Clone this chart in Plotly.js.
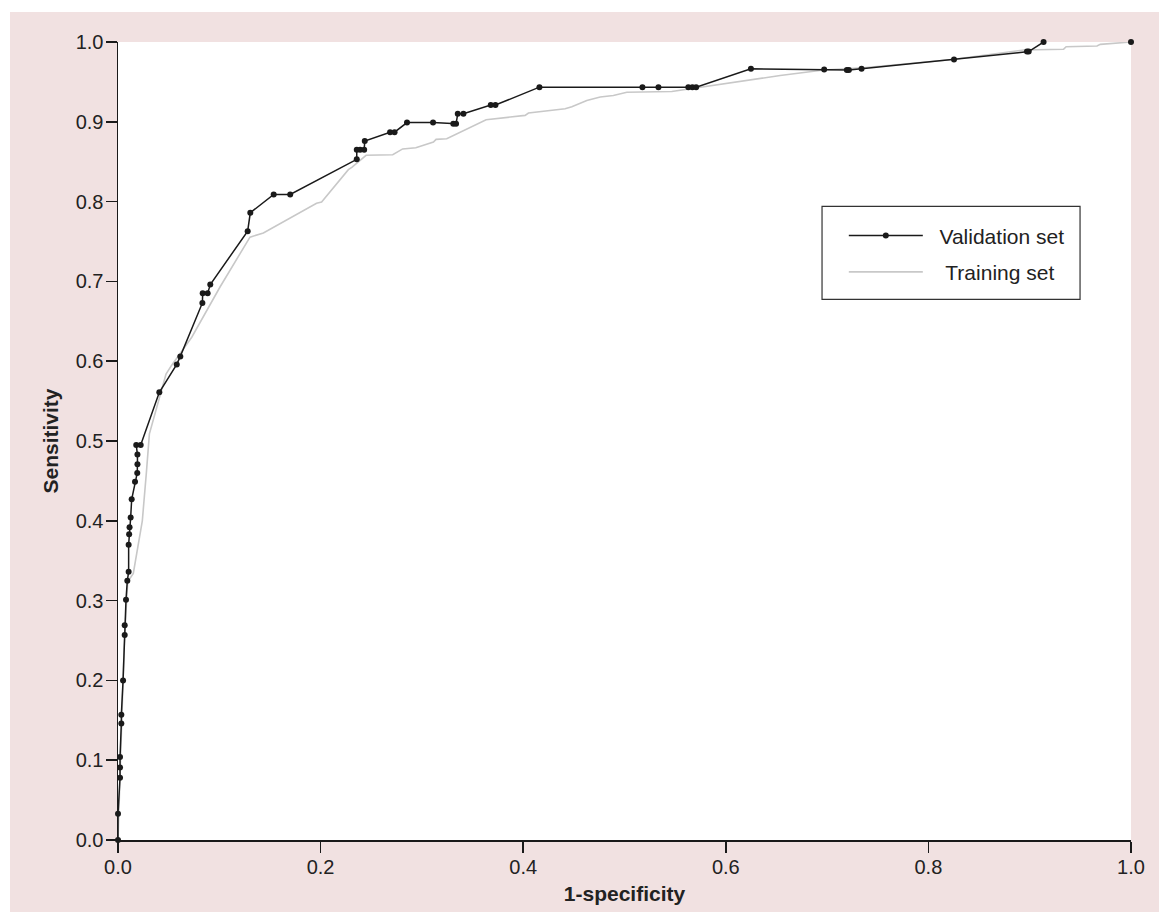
<!DOCTYPE html>
<html>
<head>
<meta charset="utf-8">
<script src="https://cdn.plot.ly/plotly-3.0.1.min.js"></script>
<style>
  html, body { margin: 0; padding: 0; background: #ffffff; }
  #chart { position: absolute; left: 10px; top: 12px; width: 1149px; height: 900px; }
</style>
</head>
<body>
<div id="chart"></div>
<script>
// Validation set ROC points (1-specificity, sensitivity)
const validationX = [0.000, 0.000, 0.002, 0.002, 0.002, 0.0033, 0.0033, 0.005, 0.0066, 0.0066, 0.0079, 0.0092, 0.0105, 0.0105, 0.011, 0.0114, 0.0125, 0.0135, 0.0168, 0.019, 0.0192, 0.0192, 0.018, 0.0224,
  0.0408, 0.058, 0.0615, 0.0833, 0.0836, 0.0885, 0.0911, 0.128, 0.1306, 0.1537, 0.170,
  0.2357, 0.2357, 0.239, 0.243, 0.2436, 0.2686, 0.273, 0.2853, 0.311, 0.331, 0.3337, 0.3354, 0.341, 0.368, 0.3726,
  0.416, 0.5177, 0.5335, 0.563, 0.567, 0.5707, 0.6248, 0.6971, 0.7195, 0.7215, 0.734, 0.8253, 0.8973, 0.899, 0.9137, null, 1.000];
const validationY = [0.000, 0.033, 0.078, 0.091, 0.104, 0.146, 0.157, 0.200, 0.257, 0.269, 0.301, 0.325, 0.336, 0.370, 0.383, 0.392, 0.404, 0.427, 0.449, 0.460, 0.471, 0.483, 0.495, 0.495,
  0.561, 0.596, 0.606, 0.673, 0.685, 0.685, 0.696, 0.763, 0.786, 0.809, 0.809,
  0.853, 0.865, 0.865, 0.865, 0.876, 0.887, 0.887, 0.899, 0.899, 0.8975, 0.8975, 0.910, 0.910, 0.921, 0.921,
  0.9434, 0.9434, 0.9434, 0.9434, 0.9434, 0.9434, 0.9664, 0.9655, 0.965, 0.965, 0.9664, 0.978, 0.988, 0.988, 1.000, null, 1.000];

// Training set ROC curve
const trainingX = [0.000, 0.002, 0.004, 0.006, 0.0085, 0.0096, 0.0151, 0.024, 0.028, 0.031, 0.0474, 0.053, 0.0728, 0.1007, 0.1303, 0.1435, 0.196, 0.201, 0.2274, 0.2308, 0.2449, 0.2712, 0.281, 0.294, 0.3114, 0.314, 0.3245, 0.3634, 0.4019, 0.4052, 0.4414, 0.448, 0.4628, 0.476, 0.489, 0.5023, 0.5467, 0.5714, 0.624, 0.6537, 0.6965, 0.736, 0.8216, 0.894, 0.9335, 0.936, 0.9664, 0.9697, 1.000];
const trainingY = [0.000, 0.080, 0.160, 0.240, 0.300, 0.3235, 0.334, 0.400, 0.460, 0.509, 0.584, 0.595, 0.630, 0.693, 0.7555, 0.7606, 0.798, 0.7994, 0.840, 0.843, 0.858, 0.8587, 0.866, 0.8675, 0.8746, 0.878, 0.8787, 0.9026, 0.908, 0.911, 0.9163, 0.919, 0.9267, 0.931, 0.933, 0.937, 0.938, 0.9426, 0.9518, 0.958, 0.965, 0.9677, 0.9777, 0.990, 0.991, 0.994, 0.995, 0.997, 1.000];

const tickValsX = [0, 0.2, 0.4, 0.6, 0.8, 1.0];
const tickTextX = ['0.0', '0.2', '0.4', '0.6', '0.8', '1.0'];
const tickValsY = [0, 0.1, 0.2, 0.3, 0.4, 0.5, 0.6, 0.7, 0.8, 0.9, 1.0];
const tickTextY = ['0.0', '0.1', '0.2', '0.3', '0.4', '0.5', '0.6', '0.7', '0.8', '0.9', '1.0'];

const FONT = '"Liberation Sans", Arial, Helvetica, sans-serif';
const TXT = '#222222';

const traces = [
  {
    x: trainingX, y: trainingY, name: '&nbsp;&nbsp;&nbsp;Training set', type: 'scatter', mode: 'lines',
    line: { color: '#c8c8c8', width: 1.6 }, legendrank: 2, legendgroup: 'b', cliponaxis: false
  },
  {
    x: validationX, y: validationY, name: '&nbsp;&nbsp;Validation set', type: 'scatter', mode: 'lines+markers',
    line: { color: '#1a1a1a', width: 1.5 }, marker: { color: '#1a1a1a', size: 6 },
    connectgaps: false, legendrank: 1, legendgroup: 'a', cliponaxis: false
  }
];

const layout = {
  width: 1149, height: 900,
  paper_bgcolor: '#f1e1e1',
  plot_bgcolor: '#ffffff',
  margin: { l: 108, r: 28, t: 30, b: 72 },
  font: { family: FONT, size: 20, color: TXT },
  showlegend: true,
  legend: {
    x: 0.7165, y: 0.7827, xanchor: 'left', yanchor: 'top',
    bgcolor: 'rgba(0,0,0,0)', borderwidth: 0,
    font: { family: FONT, size: 21, color: TXT },
    itemwidth: 74, traceorder: 'grouped', tracegroupgap: 6
  },
  shapes: [
    { type: 'rect', xref: 'paper', yref: 'paper', x0: 0.695, x1: 0.9497, y0: 0.6775, y1: 0.794,
      fillcolor: '#ffffff', line: { color: '#333333', width: 1.2 }, layer: 'above' }
  ],
  xaxis: {
    range: [0, 1], tickvals: tickValsX, ticktext: tickTextX,
    showgrid: false, zeroline: false, showline: true, linecolor: '#1a1a1a', linewidth: 1.5,
    ticks: 'outside', ticklen: 11, tickwidth: 1.5, tickcolor: '#1a1a1a', ticklabelstandoff: -3,
    tickfont: { family: FONT, size: 20, color: TXT },
    title: { text: '<b>1-specificity</b>', font: { family: FONT, size: 21, color: TXT }, standoff: 10 },
    automargin: false
  },
  yaxis: {
    range: [0, 1], tickvals: tickValsY, ticktext: tickTextY,
    showgrid: false, zeroline: false, showline: true, linecolor: '#1a1a1a', linewidth: 1.5,
    ticks: 'outside', ticklen: 11, tickwidth: 1.5, tickcolor: '#1a1a1a', ticklabelstandoff: -2,
    tickfont: { family: FONT, size: 20, color: TXT },
    title: { text: '<b>Sensitivity</b>', font: { family: FONT, size: 21, color: TXT }, standoff: 11 },
    automargin: false
  }
};

Plotly.newPlot('chart', traces, layout, { displayModeBar: false, staticPlot: true });
</script>
</body>
</html>
